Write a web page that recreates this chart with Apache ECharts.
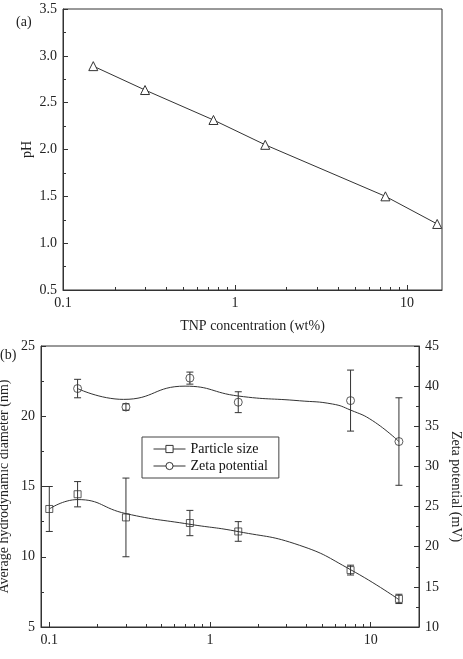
<!DOCTYPE html>
<html><head><meta charset="utf-8">
<script src="https://cdn.jsdelivr.net/npm/echarts@6/dist/echarts.min.js"></script>
<style>html,body{margin:0;padding:0;background:#fff}#c{width:463px;height:659px}</style>
</head><body><div id="c"></div>
<script>
// ---- Panel (a): pH vs TNP concentration ----
const concA = [0.15, 0.3, 0.75, 1.5, 7.5, 15];
const pH = [2.89, 2.635, 2.315, 2.05, 1.50, 1.205];

// ---- Panel (b): particle size and zeta potential ----
const concSize = [0.1, 0.15, 0.3, 0.75, 1.5, 7.5, 15];
const particleSize = [13.4, 14.45, 12.8, 12.4, 11.8, 9.05, 7.0];
const particleSizeErr = [1.6, 0.9, 2.8, 0.9, 0.7, 0.35, 0.33];

const concZeta = [0.15, 0.3, 0.75, 1.5, 7.5, 15];
const zeta = [39.7, 37.4, 41.0, 38.0, 38.2, 33.1];
const zetaErr = [1.15, 0.4, 0.75, 1.3, 3.8, 5.45];

// smoothed guide curves
const sizeCurveX = [0.1, 0.15, 0.3, 0.75, 1.5, 3.6, 7.5, 15];
const sizeCurveY = [13.4, 14.07, 13.07, 12.31, 11.79, 10.82, 9.08, 6.95];
const zetaCurveX = [0.15, 0.29, 0.7, 1.5, 3.6, 5.8, 7.5, 10.3, 15];
const zetaCurveY = [39.7, 38.35, 40.0, 38.77, 38.18, 37.77, 37.02, 35.69, 33.1];

// tick positions
const xMajorTicks = [0.1, 1, 10];
const xMinorTicks = [0.2, 0.3, 0.4, 0.5, 0.6, 0.7, 0.8, 0.9, 2, 3, 4, 5, 6, 7, 8, 9];

const FONT = '"Liberation Serif", "Times New Roman", serif';
const INK = '#222';
const LINE = '#333';

const chart = echarts.init(document.getElementById('c'), null, {renderer: 'canvas'});

function pairs(xs, ys) { return xs.map((x, i) => [x, ys[i]]); }
function errData(xs, ys, es) { return xs.map((x, i) => [x, ys[i] - es[i], ys[i] + es[i]]); }

function errRender(params, api) {
  const x = api.value(0), lo = api.value(1), hi = api.value(2);
  const a = api.coord([x, lo]), b = api.coord([x, hi]);
  const w = 3.5;
  const style = {stroke: LINE, lineWidth: 1, fill: null};
  return {type: 'group', children: [
    {type: 'line', shape: {x1: a[0], y1: a[1], x2: b[0], y2: b[1]}, style},
    {type: 'line', shape: {x1: a[0] - w, y1: a[1], x2: a[0] + w, y2: a[1]}, style},
    {type: 'line', shape: {x1: b[0] - w, y1: b[1], x2: b[0] + w, y2: b[1]}, style}
  ]};
}

function majorX(grid, min, max, name, nameGap) {
  return {
    type: 'log', logBase: 10, gridIndex: grid, min: min, max: max, position: 'bottom',
    name: name, nameLocation: 'middle', nameGap: nameGap, nameMoveOverlap: false,
    nameTextStyle: {fontFamily: FONT, fontSize: 14, color: INK},
    axisLine: {show: true, onZero: false, lineStyle: {color: LINE, width: 1}},
    axisTick: {show: true, inside: true, length: 5, customValues: xMajorTicks, lineStyle: {color: LINE}},
    axisLabel: {show: true, customValues: xMajorTicks, margin: 6, fontFamily: FONT, fontSize: 14, color: INK,
      formatter: v => String(v)},
    minorTick: {show: false}, splitLine: {show: false}
  };
}
function minorX(grid, min, max) {
  return {
    type: 'log', logBase: 10, gridIndex: grid, min: min, max: max, position: 'bottom',
    axisLine: {show: false, onZero: false},
    axisTick: {show: true, inside: true, length: 3, customValues: xMinorTicks, lineStyle: {color: LINE}},
    axisLabel: {show: false}, splitLine: {show: false}
  };
}
function valY(grid, min, max, interval, pos, name, nameGap, rot, dec) {
  return {
    type: 'value', gridIndex: grid, min: min, max: max, interval: interval, position: pos,
    name: name, nameLocation: 'middle', nameGap: nameGap, nameRotate: rot, nameMoveOverlap: false,
    nameTextStyle: {fontFamily: FONT, fontSize: 14, color: INK},
    axisLine: {show: true, onZero: false, lineStyle: {color: LINE, width: 1}},
    axisTick: {show: true, inside: true, length: 5, lineStyle: {color: LINE}},
    minorTick: {show: true, splitNumber: 2, length: 3, lineStyle: {color: LINE}},
    axisLabel: {margin: 6, fontFamily: FONT, fontSize: 14, color: INK, formatter: v => v.toFixed(dec)},
    splitLine: {show: false}, minorSplitLine: {show: false}
  };
}

const option = {
  animation: false,
  backgroundColor: '#fff',
  textStyle: {fontFamily: FONT},
  grid: [
    {left: 63, top: 9, width: 379, height: 281, show: true, borderColor: LINE, borderWidth: 1,
      backgroundColor: 'transparent', containLabel: false, outerBoundsMode: 'none'},
    {left: 41, top: 346, width: 378, height: 281, show: true, borderColor: LINE, borderWidth: 1,
      backgroundColor: 'transparent', containLabel: false, outerBoundsMode: 'none'}
  ],
  xAxis: [
    majorX(0, 0.1, 16, 'TNP concentration (wt%)', 29),
    minorX(0, 0.1, 16),
    majorX(1, 0.0888, 20, '', 20),
    minorX(1, 0.0888, 20)
  ],
  yAxis: [
    valY(0, 0.5, 3.5, 0.5, 'left', 'pH', 29, 90, 1),
    valY(1, 5, 25, 5, 'left', 'Average hydrodynamic diameter (nm)', 30, 90, 0),
    valY(1, 10, 45, 5, 'right', 'Zeta potential (mV)', 30, -90, 0)
  ],
  legend: {
    show: true, orient: 'vertical', left: 142, top: 437,
    data: ['Particle size', 'Zeta potential'],
    itemWidth: 32, itemHeight: 9, itemGap: 3,
    padding: [5, 11, 5, 11],
    borderColor: '#444', borderWidth: 1, borderRadius: 0,
    textStyle: {fontFamily: FONT, fontSize: 14, color: '#111'},
    lineStyle: {color: LINE, width: 1},
    itemStyle: {color: '#fff', borderColor: LINE, borderWidth: 1}
  },
  graphic: [
    {type: 'text', left: 16, top: 15, style: {text: '(a)', font: '14px ' + FONT, fill: INK}},
    {type: 'text', left: 0, top: 348, style: {text: '(b)', font: '14px ' + FONT, fill: INK}}
  ],
  series: [
    {
      type: 'line', name: 'pH', xAxisIndex: 0, yAxisIndex: 0,
      data: pairs(concA, pH),
      symbol: 'triangle', symbolSize: 9,
      lineStyle: {color: LINE, width: 1},
      itemStyle: {color: '#fff', borderColor: LINE, borderWidth: 1}
    },
    {
      type: 'custom', name: 'size-err', xAxisIndex: 2, yAxisIndex: 1,
      data: errData(concSize, particleSize, particleSizeErr),
      encode: {x: 0, y: [1, 2]}, renderItem: errRender, z: 3
    },
    {
      type: 'custom', name: 'zeta-err', xAxisIndex: 2, yAxisIndex: 2,
      data: errData(concZeta, zeta, zetaErr),
      encode: {x: 0, y: [1, 2]}, renderItem: errRender, z: 3
    },
    {
      type: 'line', name: 'Particle size', xAxisIndex: 2, yAxisIndex: 1,
      data: pairs(sizeCurveX, sizeCurveY), smooth: 0.5,
      symbol: 'rect', showSymbol: false,
      lineStyle: {color: LINE, width: 1},
      itemStyle: {color: '#fff', borderColor: LINE, borderWidth: 1}, z: 2
    },
    {
      type: 'line', name: 'Zeta potential', xAxisIndex: 2, yAxisIndex: 2,
      data: pairs(zetaCurveX, zetaCurveY), smooth: 0.5,
      symbol: 'circle', showSymbol: false,
      lineStyle: {color: LINE, width: 1},
      itemStyle: {color: '#fff', borderColor: LINE, borderWidth: 1}, z: 2
    },
    {
      type: 'scatter', name: 'size-pts', xAxisIndex: 2, yAxisIndex: 1,
      data: pairs(concSize, particleSize), symbol: 'rect', symbolSize: 7,
      itemStyle: {color: 'rgba(255,255,255,0)', borderColor: LINE, borderWidth: 1}, z: 4
    },
    {
      type: 'scatter', name: 'zeta-pts', xAxisIndex: 2, yAxisIndex: 2,
      data: pairs(concZeta, zeta), symbol: 'circle', symbolSize: 8,
      itemStyle: {color: 'rgba(255,255,255,0)', borderColor: LINE, borderWidth: 1}, z: 4
    }
  ]
};
chart.setOption(option);
</script>
</body></html>
